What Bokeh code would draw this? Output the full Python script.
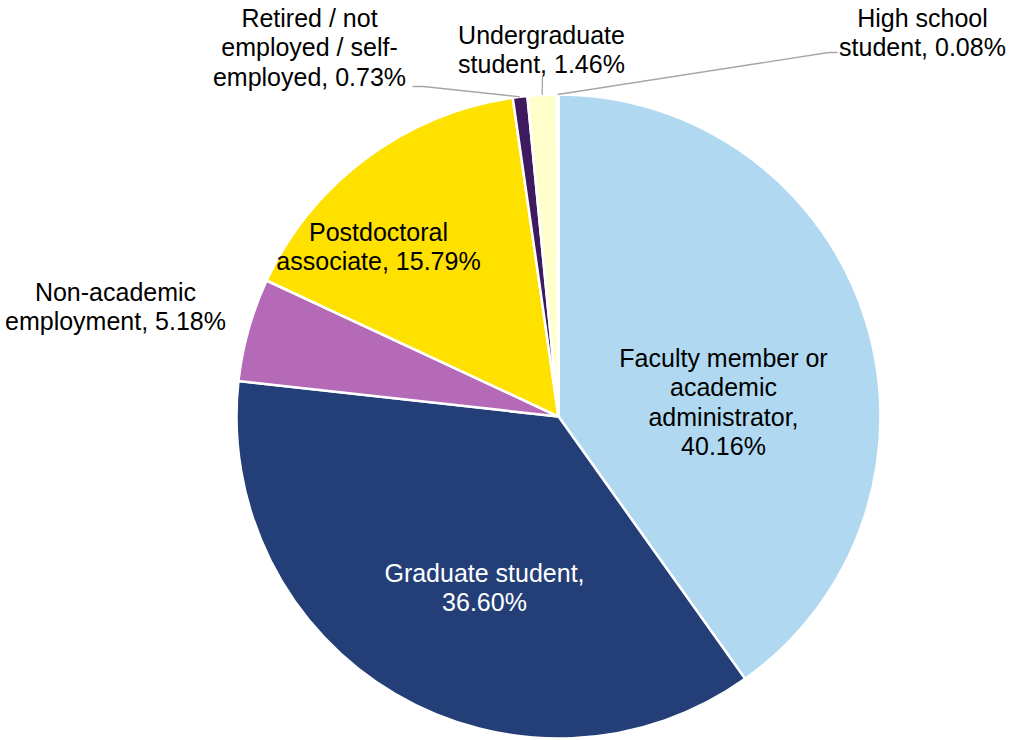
import numpy as np
from bokeh.plotting import figure
from bokeh.models import Range1d, ColumnDataSource
from bokeh.core.properties import value
from bokeh.embed import file_html
from bokeh.resources import INLINE

# ---- data ----
categories = [
    "Faculty member or academic administrator",
    "Graduate student",
    "Non-academic employment",
    "Postdoctoral associate",
    "Retired / not employed / self-employed",
    "Undergraduate student",
    "High school student",
]
shares = [40.16, 36.60, 5.18, 15.79, 0.73, 1.46, 0.08]
label_lines = [
    ["Faculty member or", "academic", "administrator,", "40.16%"],
    ["Graduate student,", "36.60%"],
    ["Non-academic", "employment, 5.18%"],
    ["Postdoctoral", "associate, 15.79%"],
    ["Retired / not", "employed / self-", "employed, 0.73%"],
    ["Undergraduate", "student, 1.46%"],
    ["High school", "student, 0.08%"],
]
colors = ["#B0D9F1", "#243F77", "#B46AB6", "#FFE100", "#3E1A5E", "#FFFFCC", "#E8E8E8"]
text_colors = ["#000000", "#FFFFFF", "#000000", "#000000", "#000000", "#000000", "#000000"]

# ---- layout (screen-pixel coordinates; y converted below) ----
W, H = 1013, 740
cx, cy_s, R = 558, 416, 322
# first-line position (screen) for each label
label_anchor = [(723, 357), (484, 572), (115, 291), (378, 231),
                (309, 17), (541, 34), (922, 17)]
line_step = 29.5
# outer end of leader lines (screen) for the small slices
leader_outer = {4: [(412, 86), (423, 86)], 5: [(542, 76)], 6: [(837, 52), (828, 52)]}

def sy(y):
    return H - y

p = figure(width=W, height=H, output_backend="svg", toolbar_location=None,
           x_range=Range1d(0, W), y_range=Range1d(0, H),
           min_border=0)
p.axis.visible = False
p.grid.visible = False
p.outline_line_color = None
p.background_fill_color = "white"
p.border_fill_color = "white"

vals = np.array(shares, dtype=float)
frac = vals / vals.sum()
cum_end = np.cumsum(frac)
cum_start = cum_end - frac
start = np.pi / 2 - cum_start * 2 * np.pi
end = np.pi / 2 - cum_end * 2 * np.pi

src = ColumnDataSource(dict(start=start, end=end, color=colors, cat=categories))
p.wedge(x=cx, y=sy(cy_s), radius=R, start_angle="start", end_angle="end",
        direction="clock", fill_color="color", line_color="white", line_width=2.5,
        source=src)

# leader lines
mid = (cum_start + cum_end) / 2 * 2 * np.pi
for i, pts in leader_outer.items():
    ex = cx + R * np.sin(mid[i])
    ey = cy_s - R * np.cos(mid[i])
    xs = [ex] + [q[0] for q in reversed(pts)]
    ys = [sy(ey)] + [sy(q[1]) for q in reversed(pts)]
    p.line(xs, ys, line_color="#A6A6A6", line_width=1.3)

# labels
tx, ty, tt, tc = [], [], [], []
for i, lines in enumerate(label_lines):
    ax, ay = label_anchor[i]
    for k, s in enumerate(lines):
        tx.append(ax)
        ty.append(sy(ay + k * line_step))
        tt.append(s)
        tc.append(text_colors[i])
p.text(x=tx, y=ty, text=tt, text_color=tc, text_align="center",
       text_baseline="alphabetic", text_font=value("Liberation Sans"),
       text_font_size="25px")

open("out.html", "w").write(file_html(p, INLINE))
